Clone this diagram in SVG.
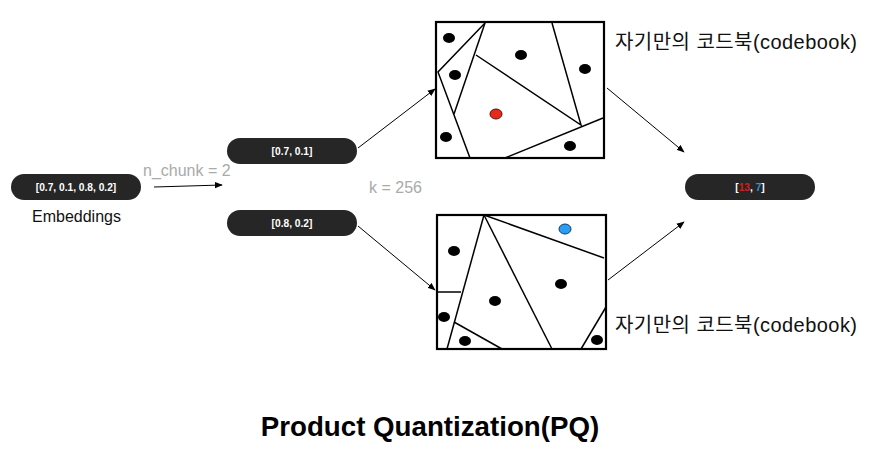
<svg xmlns="http://www.w3.org/2000/svg" width="869" height="456" viewBox="0 0 869 456">
<style>
.pill{fill:#262626;}
.pt{font-family:"Liberation Sans",Arial,sans-serif;font-weight:bold;font-size:10.2px;fill:#ffffff;text-anchor:middle;}
.gray{font-family:"Liberation Sans",Arial,sans-serif;font-size:16px;fill:#aaaaaa;}
.lbl{font-family:"Liberation Sans",Arial,sans-serif;font-size:16px;fill:#111111;}
.kr{font-family:"Liberation Sans","Noto Sans CJK KR",sans-serif;font-size:20px;fill:#111111;}
.box{fill:#ffffff;stroke:#000000;stroke-width:2.2;}
.cut{stroke:#000000;stroke-width:1.5;fill:none;}
.dot{fill:#000000;}
.conn{stroke:#000000;stroke-width:1;fill:none;marker-end:url(#ah);}
</style>
<defs>
<marker id="ah" viewBox="0 0 10 10" refX="9" refY="5" markerWidth="8" markerHeight="8" orient="auto" markerUnits="userSpaceOnUse">
<path d="M0,1 L10,5 L0,9 Z" fill="#000000"/>
</marker>
</defs>
<rect width="869" height="456" fill="#ffffff"/>

<g id="connectors">
<line class="conn" x1="154" y1="187" x2="222" y2="185"/>
<line class="conn" x1="358" y1="148" x2="435" y2="89"/>
<line class="conn" x1="358" y1="226" x2="435" y2="290"/>
<line class="conn" x1="607" y1="88" x2="684" y2="152"/>
<line class="conn" x1="608" y1="280" x2="684" y2="222"/>
</g>

<g id="embeddings">
<rect class="pill" x="11" y="174" width="130" height="26" rx="13"/>
<text class="pt" x="76" y="190.5">[0.7, 0.1, 0.8, 0.2]</text>
<text class="lbl" x="32" y="221.5">Embeddings</text>
</g>

<g id="n_chunk_label">
<text class="gray" x="143" y="176">n_chunk = 2</text>
</g>

<g id="chunk1">
<rect class="pill" x="227" y="138" width="130" height="26" rx="13"/>
<text class="pt" x="292" y="155">[0.7, 0.1]</text>
</g>

<g id="chunk2">
<rect class="pill" x="227" y="210" width="130" height="26" rx="13"/>
<text class="pt" x="292" y="227">[0.8, 0.2]</text>
</g>

<g id="k_label">
<text class="gray" x="369" y="193">k = 256</text>
</g>

<g id="codebook1">
<rect class="box" x="436" y="22" width="168" height="136"/>
<polyline class="cut" points="485,23 438,72 470,158"/>
<line class="cut" x1="485" y1="23" x2="454" y2="114"/>
<polyline class="cut" points="476,55 581,125 552,23"/>
<line class="cut" x1="505" y1="158" x2="603" y2="118"/>
<ellipse class="dot" cx="449" cy="38" rx="6" ry="5"/>
<ellipse class="dot" cx="455" cy="75" rx="6" ry="5"/>
<ellipse class="dot" cx="521" cy="55" rx="6" ry="5"/>
<ellipse class="dot" cx="585" cy="69" rx="6" ry="5"/>
<ellipse class="dot" cx="446" cy="137" rx="6" ry="5"/>
<ellipse class="dot" cx="570" cy="146" rx="6" ry="5"/>
<ellipse cx="496" cy="114" rx="6" ry="5" fill="#e82a1c" stroke="#5a0f0a" stroke-width="1"/>
<text class="kr" x="615" y="49" textLength="242">자기만의 코드북(codebook)</text>
</g>

<g id="codebook2">
<rect class="box" x="437" y="215" width="169" height="134"/>
<line class="cut" x1="484" y1="215" x2="604" y2="258"/>
<line class="cut" x1="484" y1="215" x2="447" y2="349"/>
<line class="cut" x1="484" y1="215" x2="552" y2="349"/>
<line class="cut" x1="437" y1="292" x2="461" y2="292"/>
<line class="cut" x1="454" y1="322" x2="502" y2="349"/>
<line class="cut" x1="606" y1="307" x2="581" y2="349"/>
<ellipse cx="565" cy="229" rx="6" ry="5" fill="#2a9df4" stroke="#0d3f66" stroke-width="1"/>
<ellipse class="dot" cx="454" cy="251" rx="6" ry="5"/>
<ellipse class="dot" cx="561" cy="284" rx="6" ry="5"/>
<ellipse class="dot" cx="495" cy="301" rx="6" ry="5"/>
<ellipse class="dot" cx="444" cy="317" rx="6" ry="5"/>
<ellipse class="dot" cx="465" cy="341" rx="6" ry="5"/>
<ellipse class="dot" cx="597" cy="340" rx="6" ry="5"/>
<text class="kr" x="615" y="332" textLength="242">자기만의 코드북(codebook)</text>
</g>

<g id="result">
<rect class="pill" x="685" y="174" width="130" height="26" rx="13"/>
<text class="pt" x="750" y="190.5">[<tspan fill="#d0201f">13</tspan>, <tspan fill="#3a8fd6">7</tspan>]</text>
</g>

<g id="title">
<text x="430" y="436" font-family="'Liberation Sans',Arial,sans-serif" font-weight="bold" font-size="27.7px" fill="#000000" text-anchor="middle">Product Quantization(PQ)</text>
</g>
</svg>
